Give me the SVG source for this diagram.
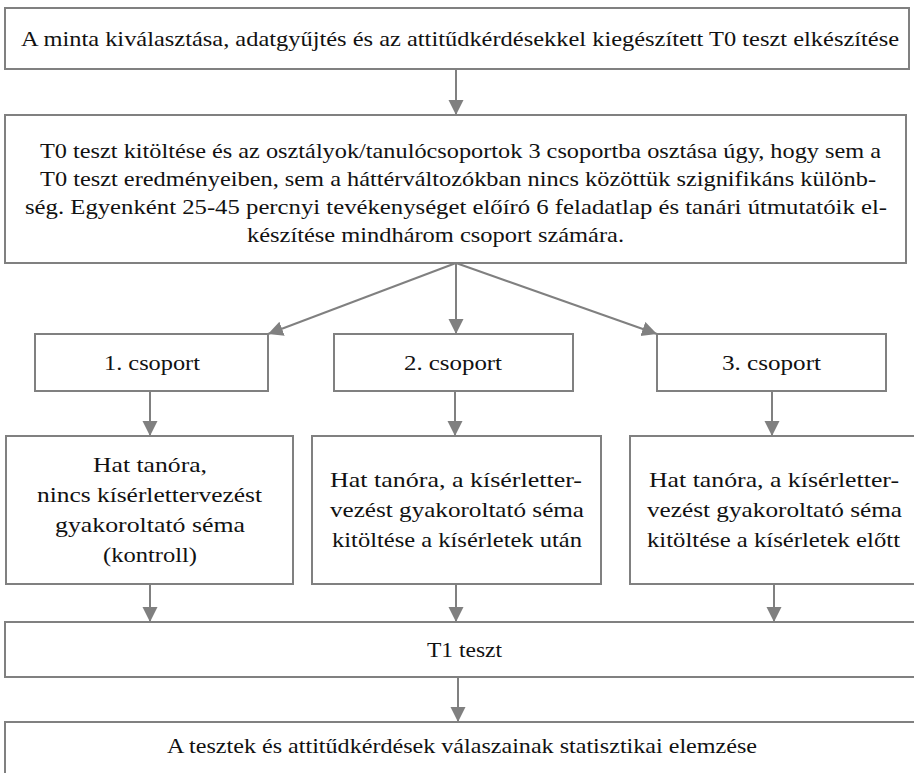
<svg xmlns="http://www.w3.org/2000/svg" width="914" height="773" viewBox="0 0 914 773">
<style>
.box{fill:#fff;stroke:#808080;stroke-width:2}
.t{font-family:"Liberation Serif",Tinos,"Times New Roman",Times,"Noto Serif","DejaVu Serif",Georgia,serif;font-size:21px;fill:#111}
.c{stroke:#808080;stroke-width:2;fill:none;marker-end:url(#ah)}
</style>
<defs>
<marker id="ah" markerUnits="userSpaceOnUse" markerWidth="16" markerHeight="16" refX="15" refY="7.5" orient="auto">
<path d="M0,0 L15,7.5 L0,15 z" fill="#808080"/>
</marker>
</defs>
<rect width="914" height="773" fill="#fff"/>
<g id="connectors">
<line class="c" x1="456" y1="69" x2="456" y2="115"/>
<line class="c" x1="456" y1="263" x2="268" y2="334"/>
<line class="c" x1="456" y1="263" x2="456" y2="334"/>
<line class="c" x1="456" y1="263" x2="657" y2="334"/>
<line class="c" x1="150" y1="391" x2="150" y2="436"/>
<line class="c" x1="455" y1="391" x2="455" y2="436"/>
<line class="c" x1="772" y1="391" x2="772" y2="436"/>
<line class="c" x1="150" y1="584" x2="150" y2="622"/>
<line class="c" x1="456" y1="584" x2="456" y2="622"/>
<line class="c" x1="774" y1="584" x2="774" y2="622"/>
<line class="c" x1="458" y1="677" x2="458" y2="722"/>
</g>
<g id="n1">
<rect class="box" x="5" y="8" width="904" height="61"/>
<text class="t" x="21" y="46" textLength="878" lengthAdjust="spacingAndGlyphs">A minta kiválasztása, adatgyűjtés és az attitűdkérdésekkel kiegészített T0 teszt elkészítése</text>
</g>
<g id="n2">
<rect class="box" x="5" y="115" width="901" height="148"/>
<text class="t" x="40" y="158" textLength="841" lengthAdjust="spacingAndGlyphs">T0 teszt kitöltése és az osztályok/tanulócsoportok 3 csoportba osztása úgy, hogy sem a</text>
<text class="t" x="40" y="186" textLength="836" lengthAdjust="spacingAndGlyphs">T0 teszt eredményeiben, sem a háttérváltozókban nincs közöttük szignifikáns különb-</text>
<text class="t" x="25" y="214" textLength="862" lengthAdjust="spacingAndGlyphs">ség. Egyenként 25-45 percnyi tevékenységet előíró 6 feladatlap és tanári útmutatóik el-</text>
<text class="t" x="247" y="242" textLength="377" lengthAdjust="spacingAndGlyphs">készítése mindhárom csoport számára.</text>
</g>
<g id="g1">
<rect class="box" x="35" y="334" width="233" height="57"/>
<text class="t" x="104" y="370" textLength="96" lengthAdjust="spacingAndGlyphs">1. csoport</text>
</g>
<g id="g2">
<rect class="box" x="334" y="334" width="239" height="57"/>
<text class="t" x="404" y="370" textLength="98" lengthAdjust="spacingAndGlyphs">2. csoport</text>
</g>
<g id="g3">
<rect class="box" x="657" y="334" width="229" height="57"/>
<text class="t" x="722" y="370" textLength="99" lengthAdjust="spacingAndGlyphs">3. csoport</text>
</g>
<g id="c1">
<rect class="box" x="6" y="436" width="287" height="148"/>
<text class="t" x="93" y="472" textLength="114" lengthAdjust="spacingAndGlyphs">Hat tanóra,</text>
<text class="t" x="37" y="502" textLength="225" lengthAdjust="spacingAndGlyphs">nincs kísérlettervezést</text>
<text class="t" x="55" y="532" textLength="190" lengthAdjust="spacingAndGlyphs">gyakoroltató séma</text>
<text class="t" x="103" y="562" textLength="94" lengthAdjust="spacingAndGlyphs">(kontroll)</text>
</g>
<g id="c2">
<rect class="box" x="312" y="436" width="289" height="148"/>
<text class="t" x="330" y="487" textLength="252" lengthAdjust="spacingAndGlyphs">Hat tanóra, a kísérletter-</text>
<text class="t" x="330" y="517" textLength="254" lengthAdjust="spacingAndGlyphs">vezést gyakoroltató séma</text>
<text class="t" x="332" y="547" textLength="250" lengthAdjust="spacingAndGlyphs">kitöltése a kísérletek után</text>
</g>
<g id="c3">
<rect class="box" x="630" y="436" width="292" height="148"/>
<text class="t" x="649" y="487" textLength="250" lengthAdjust="spacingAndGlyphs">Hat tanóra, a kísérletter-</text>
<text class="t" x="647" y="517" textLength="255" lengthAdjust="spacingAndGlyphs">vezést gyakoroltató séma</text>
<text class="t" x="647" y="547" textLength="253" lengthAdjust="spacingAndGlyphs">kitöltése a kísérletek előtt</text>
</g>
<g id="t1">
<rect class="box" x="5" y="622" width="917" height="55"/>
<text class="t" x="427" y="657" textLength="75" lengthAdjust="spacingAndGlyphs">T1 teszt</text>
</g>
<g id="final">
<rect class="box" x="5" y="722" width="917" height="62"/>
<text class="t" x="167" y="753" textLength="590" lengthAdjust="spacingAndGlyphs">A tesztek és attitűdkérdések válaszainak statisztikai elemzése</text>
</g>
</svg>
